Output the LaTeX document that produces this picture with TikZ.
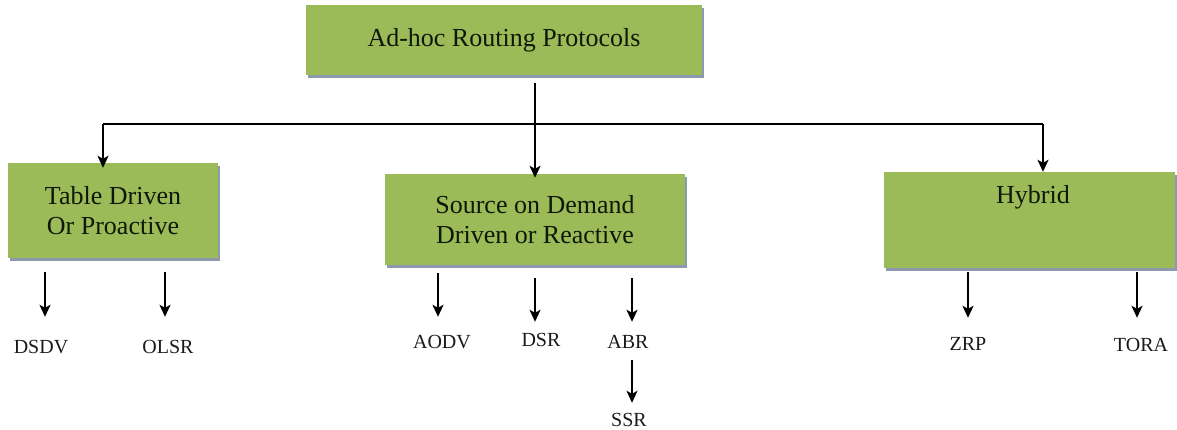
\documentclass[tikz,border=0pt]{standalone}
\usepackage{fontspec}
\setmainfont{Liberation Serif}
\usetikzlibrary{arrows.meta,shadows}
\definecolor{boxgreen}{HTML}{9BBB59}
\definecolor{boxshade}{HTML}{8C99AE}
\definecolor{boxink}{HTML}{0E1806}
\definecolor{leafink}{HTML}{1A1A1A}
\tikzset{
  box/.style={draw=none, fill=boxgreen, inner sep=0pt, align=center,
    text=boxink, font=\fontsize{26}{30}\selectfont,
    drop shadow={shadow xshift=2pt, shadow yshift=-3pt, fill=boxshade, opacity=1}},
  boxtext/.style={text=boxink, font=\fontsize{26}{30}\selectfont, inner sep=0pt},
  leaf/.style={text=leafink, font=\fontsize{20}{24}\selectfont, inner sep=0pt,
    text height=13pt, text depth=0pt},
  arr/.style={line width=2pt, -{Stealth[length=12pt, width=11pt, inset=3pt]}},
  bar/.style={line width=1.5pt}
}
\begin{document}
\begin{tikzpicture}[x=1pt, y=-1pt]
\useasboundingbox (0,0) rectangle (1177,430);

% root and the three families
\node[box, minimum width=396pt, minimum height=70pt] (root) at (504,40) {Ad-hoc Routing Protocols};
\node[box, minimum width=210pt, minimum height=95pt] (tbl) at (113,210.5) {Table Driven\\Or Proactive};
\node[box, minimum width=300pt, minimum height=91pt] (src) at (535,219.5) {Source on Demand\\Driven or Reactive};
\node[box, minimum width=291pt, minimum height=96pt] (hyb) at (1029.5,220) {};
\node[boxtext] (hybt) at (1033,197) {Hybrid};

% distribution bar
\coordinate (bl) at (103,124);
\coordinate (br) at (1043,124);
\draw[bar] (bl) -- (br);
\draw[arr, shorten <=8pt] (root.south -| src.north) -- ([yshift=-4pt]src.north);
\draw[arr] (bl) -- ([yshift=-5pt]bl |- tbl.north);
\draw[arr] (br) -- (br |- hyb.north);

% protocols
\node[leaf] (dsdv) at (41,347) {DSDV};
\node[leaf] (olsr) at (168,347) {OLSR};
\node[leaf] (aodv) at (442,342) {AODV};
\node[leaf] (dsr)  at (541,340) {DSR};
\node[leaf] (abr)  at (628,342) {ABR};
\node[leaf] (ssr)  at (629,420) {SSR};
\node[leaf] (zrp)  at (968,344) {ZRP};
\node[leaf] (tora) at (1141,345) {TORA};

\coordinate (t-dsdv) at (45,272);
\coordinate (t-olsr) at (165,272);
\coordinate (t-aodv) at (438,273);
\coordinate (t-dsr)  at (535,278);
\coordinate (t-abr)  at (632,278);
\coordinate (t-zrp)  at (968,272);
\coordinate (t-tora) at (1137,272);

\draw[arr, shorten >=23.5pt] (t-dsdv) -- (t-dsdv |- dsdv.north);
\draw[arr, shorten >=23.5pt] (t-olsr) -- (t-olsr |- olsr.north);
\draw[arr, shorten >=18.5pt] (t-aodv) -- (t-aodv |- aodv.north);
\draw[arr, shorten >=11.5pt] (t-dsr)  -- (t-dsr |- dsr.north);
\draw[arr, shorten >=13.5pt] (t-abr)  -- (t-abr |- abr.north);
\draw[arr, shorten <=11.5pt, shorten >=10.5pt] (t-abr |- abr.south) -- (t-abr |- ssr.north);
\draw[arr, shorten >=19.5pt] (t-zrp)  -- (t-zrp |- zrp.north);
\draw[arr, shorten >=20.5pt] (t-tora) -- (t-tora |- tora.north);
\end{tikzpicture}
\end{document}
